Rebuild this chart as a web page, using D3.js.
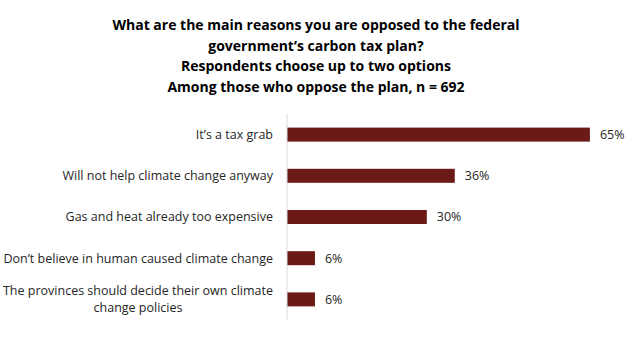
<!DOCTYPE html>
<html>
<head>
<meta charset="utf-8">
<script src="https://cdn.jsdelivr.net/npm/d3@7"></script>
<style>
  html, body { margin: 0; padding: 0; background: #fff; }
  svg { display: block; }
</style>
</head>
<body>
<svg id="chart" width="630" height="339"></svg>
<script>
// Survey data: reasons for opposing the carbon tax plan
const titleLines = [
  "What are the main reasons you are opposed to the federal",
  "government\u2019s carbon tax plan?",
  "Respondents choose up to two options",
  "Among those who oppose the plan, n = 692"
];
const reasons = [
  ["It\u2019s a tax grab"],
  ["Will not help climate change anyway"],
  ["Gas and heat already too expensive"],
  ["Don\u2019t believe in human caused climate change"],
  ["The provinces should decide their own climate", "change policies"]
];
const shares = [65, 36, 30, 6, 6];

const svg = d3.select("#chart");
const font = "'Open Sans', 'Liberation Sans', sans-serif";
const textColor = "#262626";
const barColor = "#6b1a17";

// Title
svg.append("g")
  .selectAll("text")
  .data(titleLines)
  .join("text")
  .attr("x", 316)
  .attr("y", (d, i) => 30 + i * 20.7)
  .attr("text-anchor", "middle")
  .attr("font-family", font)
  .attr("font-weight", "bold")
  .attr("font-size", 14)
  .attr("fill", "#000")
  .text(d => d);

// Scales
const x0 = 287;
const x = d3.scaleLinear().domain([0, 100]).range([x0, x0 + 466]);
const y = d3.scaleBand()
  .domain(d3.range(reasons.length))
  .range([114, 320])
  .paddingInner(0.66)
  .paddingOuter(0.33);

// Bars
svg.append("g")
  .selectAll("rect")
  .data(shares)
  .join("rect")
  .attr("x", x(0))
  .attr("y", (d, i) => y(i))
  .attr("width", d => x(d) - x(0))
  .attr("height", y.bandwidth())
  .attr("fill", barColor);

// Value labels
svg.append("g")
  .selectAll("text")
  .data(shares)
  .join("text")
  .attr("x", d => x(d) + 10)
  .attr("y", (d, i) => y(i) + y.bandwidth() / 2)
  .attr("dy", "0.35em")
  .attr("font-family", font)
  .attr("font-size", 12.5)
  .attr("fill", textColor)
  .text(d => d + "%");

// Category axis line
svg.append("line")
  .attr("x1", x0).attr("x2", x0)
  .attr("y1", 114).attr("y2", 320)
  .attr("stroke", "#d9d9d9")
  .attr("stroke-width", 1);

// Category labels (wrapped lines centered under the longest line)
const labelRight = 273;
const lineH = 17;
const catG = svg.append("g");
reasons.forEach((lines, i) => {
  const cy = y(i) + y.bandwidth() / 2;
  const top = cy - (lines.length - 1) * lineH / 2;
  const texts = lines.map((line, j) =>
    catG.append("text")
      .attr("y", top + j * lineH)
      .attr("dy", "0.35em")
      .attr("font-family", font)
      .attr("font-size", 12.5)
      .attr("fill", textColor)
      .text(line));
  const widths = texts.map(t => t.node().getComputedTextLength());
  const maxW = d3.max(widths);
  const center = labelRight - maxW / 2;
  texts.forEach(t => t.attr("x", center).attr("text-anchor", "middle"));
});
</script>
</body>
</html>
